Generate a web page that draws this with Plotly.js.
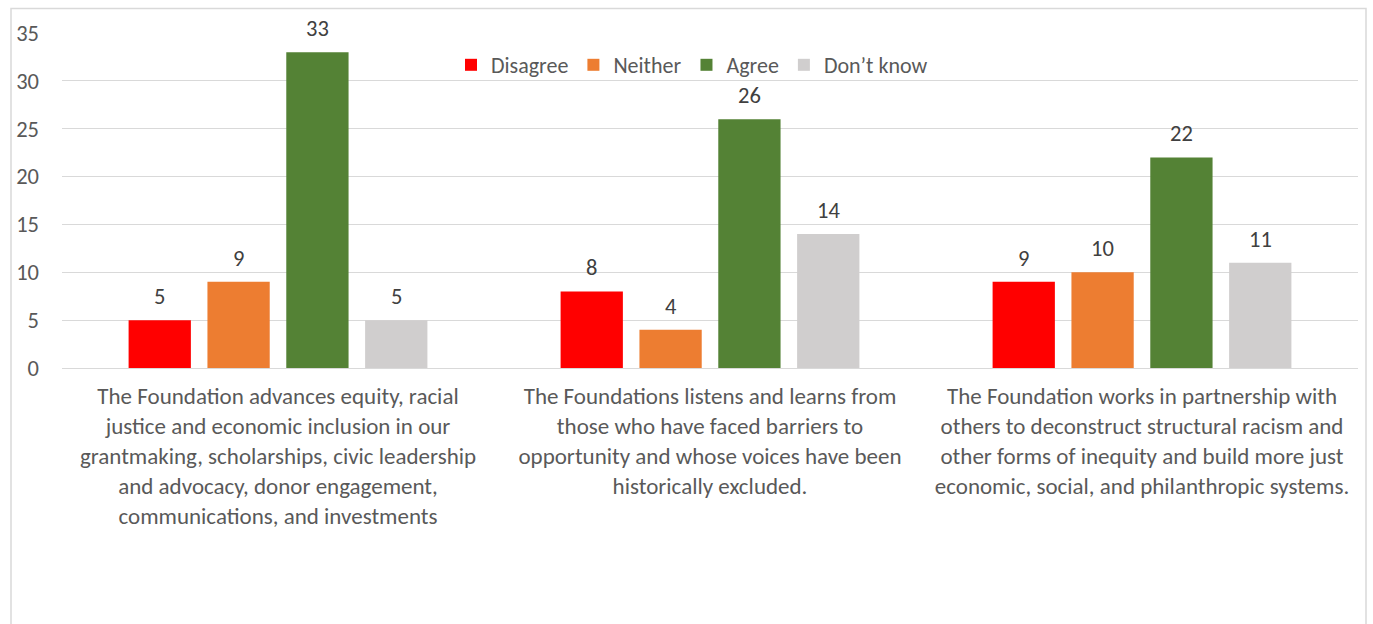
<!DOCTYPE html>
<html><head><meta charset="utf-8">
<script src="https://cdn.plot.ly/plotly-3.0.1.min.js"></script>
<style>body{margin:0;background:#fff}#c{width:1373px;height:624px}</style>
</head><body><div id="c"></div>
<script>
const categories = [
  "The Foundation advances equity, racial<br>justice and economic inclusion in our<br>grantmaking, scholarships, civic leadership<br>and advocacy, donor engagement,<br>communications, and investments",
  "The Foundations listens and learns from<br>those who have faced barriers to<br>opportunity and whose voices have been<br>historically excluded.",
  "The Foundation works in partnership with<br>others to deconstruct structural racism and<br>other forms of inequity and build more just<br>economic, social, and philanthropic systems."
];
const seriesNames = ["Disagree", "Neither", "Agree", "Don\u2019t know"];
const disagree = [5, 8, 9];
const neither = [9, 4, 10];
const agree = [33, 26, 22];
const dontKnow = [5, 14, 11];
const yTicks = [0, 5, 10, 15, 20, 25, 30, 35];

const colors = ["#FF0000", "#ED7D31", "#548235", "#D0CECE"];
const values = [disagree, neither, agree, dontKnow];
const FONT = "Calibri, Carlito, Lato, 'Open Sans', sans-serif";
const FS = 22.5;

const L = 62, R = 1358, T = 33, B = 368;
const pw = R - L, ph = B - T;
const bargap = 0.27, bargroupgap = 0.21;
const catW = pw / categories.length;
const slot = catW * (1 - bargap) / values.length;

const traces = values.map((v, i) => ({
  type: "bar", name: seriesNames[i], x: categories, y: v,
  marker: {color: colors[i]}, hoverinfo: "none"
}));

const annotations = [];
values.forEach((v, i) => {
  v.forEach((val, j) => {
    annotations.push({x: categories[j], y: val, xref: "x", yref: "y", text: String(val), showarrow: false,
      xanchor: "center", yanchor: "bottom", xshift: (i - (values.length - 1) / 2) * slot, yshift: 8,
      font: {family: FONT, size: FS, color: "#404040"}});
  });
});

const layout = {
  width: 1373, height: 624,
  margin: {l: L, r: 1373 - R, t: T, b: 624 - B},
  paper_bgcolor: "#fff", plot_bgcolor: "#fff",
  barmode: "group", bargap: bargap, bargroupgap: bargroupgap,
  font: {family: FONT, size: FS, color: "#595959"},
  showlegend: true,
  legend: {orientation: "h", x: (692 - L) / pw, xanchor: "center", y: (B - 65) / ph, yanchor: "middle",
    font: {family: FONT, size: 22, color: "#595959"}, bgcolor: "rgba(0,0,0,0)", itemwidth: 30, tracegroupgap: 0},
  xaxis: {showgrid: false, zeroline: false, showline: false, ticks: "", tickangle: 0,
    ticklabelstandoff: 12, tickfont: {family: FONT, size: 23, color: "#595959"}, automargin: false},
  yaxis: {range: [0, 35], tickvals: yTicks, ticktext: yTicks.map(String), showgrid: true, gridcolor: "#d9d9d9", gridwidth: 1,
    zeroline: true, zerolinecolor: "#d9d9d9", zerolinewidth: 1, showline: false, ticks: "",
    ticklabelstandoff: 22, tickfont: {family: FONT, size: FS, color: "#595959"}, automargin: false},
  annotations: annotations,
  shapes: [{type: "rect", xref: "paper", yref: "paper",
    x0: (11 - L) / pw, x1: (1366 - L) / pw, y0: (B - 640) / ph, y1: (B - 8.5) / ph,
    line: {color: "#d9d9d9", width: 1.5}, fillcolor: "rgba(0,0,0,0)", layer: "below"}]
};
Plotly.newPlot("c", traces, layout, {displayModeBar: false, staticPlot: true});
</script></body></html>
